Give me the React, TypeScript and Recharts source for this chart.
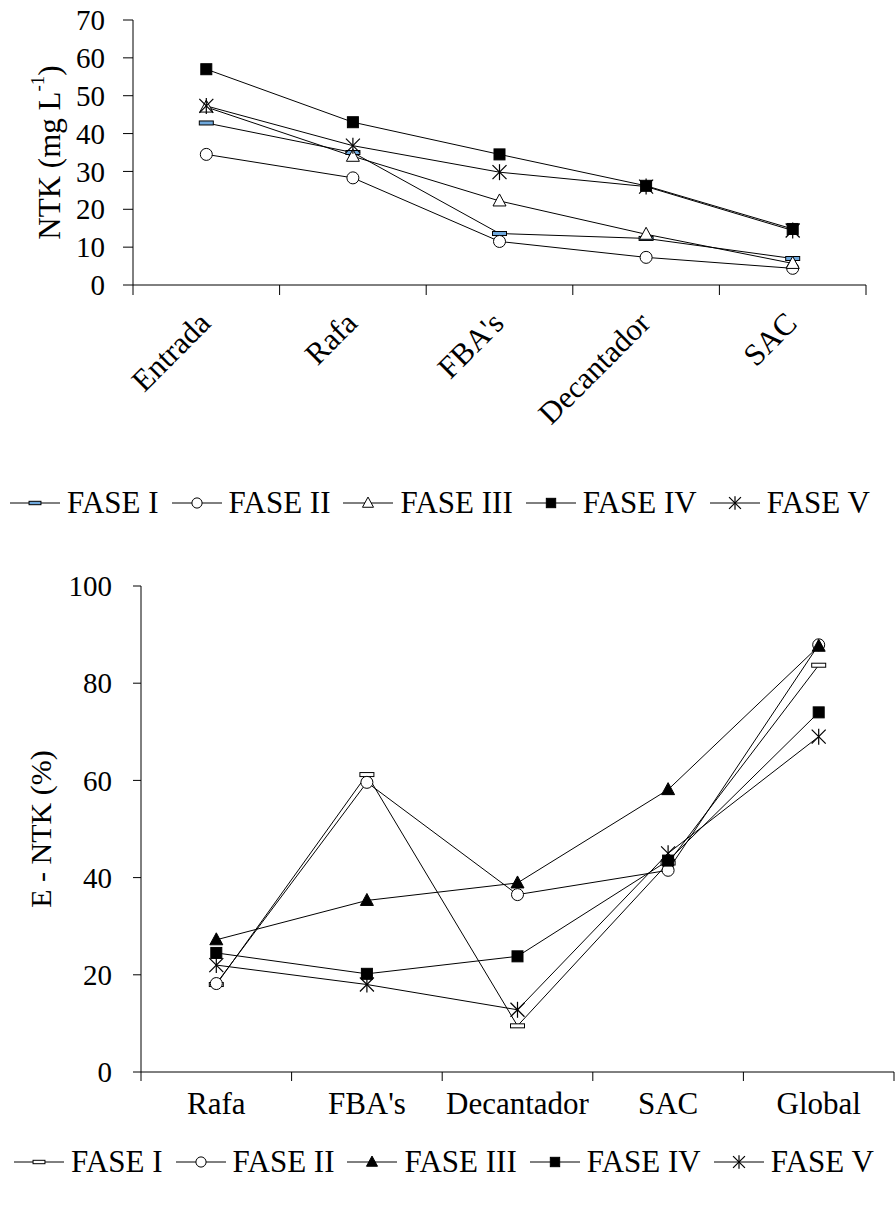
import React from 'react';
import { LineChart, Line, XAxis, YAxis, Label } from 'recharts';

// ---------- DATA ----------
const stagesTop = ['Entrada', 'Rafa', "FBA's", 'Decantador', 'SAC'];
const ntkFaseI = [42.8, 35.0, 13.6, 12.3, 7.0];
const ntkFaseII = [34.5, 28.3, 11.5, 7.3, 4.4];
const ntkFaseIII = [47.0, 34.0, 22.2, 13.4, 5.7];
const ntkFaseIV = [57.0, 43.0, 34.5, 26.2, 14.8];
const ntkFaseV = [47.3, 36.8, 29.8, 26.0, 14.4];
const topYTicks = [0, 10, 20, 30, 40, 50, 60, 70];

const stagesBottom = ['Rafa', "FBA's", 'Decantador', 'SAC', 'Global'];
const effFaseI = [18.0, 61.2, 9.5, 43.0, 83.7];
const effFaseII = [18.2, 59.6, 36.5, 41.5, 87.9];
const effFaseIII = [27.2, 35.3, 38.9, 58.1, 87.6];
const effFaseIV = [24.5, 20.2, 23.8, 43.5, 74.0];
const effFaseV = [22.0, 18.0, 12.8, 45.0, 69.0];
const bottomYTicks = [0, 20, 40, 60, 80, 100];

const seriesNames = ['FASE I', 'FASE II', 'FASE III', 'FASE IV', 'FASE V'];
const seriesKeys = ['f1', 'f2', 'f3', 'f4', 'f5'];
const markerKinds = ['dash', 'circle', 'triangle', 'square', 'star'];

const topData = stagesTop.map((name, i) => ({
  i,
  name,
  f1: ntkFaseI[i],
  f2: ntkFaseII[i],
  f3: ntkFaseIII[i],
  f4: ntkFaseIV[i],
  f5: ntkFaseV[i],
}));

const bottomData = stagesBottom.map((name, i) => ({
  i,
  name,
  f1: effFaseI[i],
  f2: effFaseII[i],
  f3: effFaseIII[i],
  f4: effFaseIV[i],
  f5: effFaseV[i],
}));

const boundaryTicks = [-0.5, 0.5, 1.5, 2.5, 3.5, 4.5];
const centerTicks = [0, 1, 2, 3, 4];

const FONT = '"Liberation Serif", "Times New Roman", serif';

// ---------- MARKERS ----------
type MarkerProps = {
  kind: string;
  cx: number;
  cy: number;
  filledTriangle?: boolean;
  dashFill?: string;
  s?: number;
};

function Marker({ kind, cx, cy, filledTriangle, dashFill, s = 1 }: MarkerProps) {
  if (cx == null || cy == null) return <g />;
  switch (kind) {
    case 'dash':
      return (
        <rect x={cx - 7 * s} y={cy - 2 * s} width={14 * s} height={4 * s}
          fill={dashFill || '#fff'} stroke="#000" strokeWidth={1} />
      );
    case 'circle':
      return <circle cx={cx} cy={cy} r={6 * s} fill="#fff" stroke="#000" strokeWidth={1} />;
    case 'triangle':
      return (
        <polygon
          points={`${cx},${cy - 7 * s} ${cx + 6.5 * s},${cy + 5 * s} ${cx - 6.5 * s},${cy + 5 * s}`}
          fill={filledTriangle ? '#000' : '#fff'} stroke="#000" strokeWidth={1} />
      );
    case 'square':
      return <rect x={cx - 5.5 * s} y={cy - 5.5 * s} width={11 * s} height={11 * s} fill="#000" stroke="#000" />;
    case 'star':
      return (
        <g stroke="#000" strokeWidth={1.2}>
          <line x1={cx} y1={cy - 8 * s} x2={cx} y2={cy + 8 * s} />
          <line x1={cx - 7 * s} y1={cy - 7 * s} x2={cx + 7 * s} y2={cy + 7 * s} />
          <line x1={cx - 7 * s} y1={cy + 7 * s} x2={cx + 7 * s} y2={cy - 7 * s} />
        </g>
      );
    default:
      return <g />;
  }
}

const EmptyTick = () => <g />;

const YTick = (p: any) => {
  const { x, y, payload } = p;
  return (
    <text x={x} y={y} dy="0.35em" textAnchor="end" fontSize={29} fontFamily={FONT} fill="#000">
      {payload.value}
    </text>
  );
};

const TopCatTick = (p: any) => {
  const { x, y, payload } = p;
  const ax = x + 6;
  const ay = y + 30;
  return (
    <text x={ax} y={ay} transform={`rotate(-45, ${ax}, ${ay})`} textAnchor="end"
      fontSize={31} fontFamily={FONT} fill="#000">
      {stagesTop[payload.value]}
    </text>
  );
};

const BottomCatTick = (p: any) => {
  const { x, y, payload } = p;
  return (
    <text x={x} y={y + 33} textAnchor="middle" fontSize={31} fontFamily={FONT} fill="#000">
      {stagesBottom[payload.value]}
    </text>
  );
};

const TopYLabel = (props: any) => {
  const vb = props.viewBox || { y: 20, height: 265 };
  const cx = 49;
  const cy = vb.y + vb.height / 2;
  return (
    <text x={cx} y={cy} transform={`rotate(-90, ${cx}, ${cy})`} textAnchor="middle"
      dominantBaseline="central" fontSize={31} fontFamily={FONT} fill="#000">
      NTK (mg L<tspan fontSize={19} dy={-12}>-1</tspan><tspan dy={12}>)</tspan>
    </text>
  );
};

const BottomYLabel = (props: any) => {
  const vb = props.viewBox || { y: 586, height: 486 };
  const cx = 40;
  const cy = vb.y + vb.height / 2;
  return (
    <text x={cx} y={cy} transform={`rotate(-90, ${cx}, ${cy})`} textAnchor="middle"
      dominantBaseline="central" fontSize={30} fontFamily={FONT} fill="#000">
      E - NTK (%)
    </text>
  );
};

function LegendRow({ top, left, filledTriangle, dashFill }: { top: number; left: number; filledTriangle: boolean; dashFill: string }) {
  return (
    <div style={{
      position: 'absolute', top, left, display: 'flex', alignItems: 'center',
      whiteSpace: 'nowrap', fontFamily: FONT, fontSize: 31, lineHeight: '34px', color: '#000',
    }}>
      {seriesNames.map((name, k) => (
        <div key={name} style={{ display: 'flex', alignItems: 'center', marginRight: 13 }}>
          <svg width={50} height={24} style={{ display: 'block' }}>
            <line x1={0} y1={12} x2={50} y2={12} stroke="#000" strokeWidth={1} />
            <Marker kind={markerKinds[k]} cx={25} cy={12} s={0.85}
              filledTriangle={filledTriangle} dashFill={dashFill} />
          </svg>
          <span style={{ marginLeft: 7 }}>{name}</span>
        </div>
      ))}
    </div>
  );
}

export default function App() {
  return (
    <div style={{ position: 'absolute', left: 0, top: 0, width: 895, height: 1205, background: '#fff', overflow: 'hidden' }}>
      {/* Top chart */}
      <div style={{ position: 'absolute', left: 0, top: 0 }}>
        <LineChart width={895} height={435} data={topData}
          margin={{ top: 20, right: 29, bottom: 0, left: 0 }}>
          <XAxis xAxisId="a" dataKey="i" type="number" domain={[-0.5, 4.5]} ticks={boundaryTicks}
            interval={0} tick={EmptyTick} tickSize={10} height={10}
            axisLine={{ stroke: '#000' }} tickLine={{ stroke: '#000' }} />
          <XAxis xAxisId="b" dataKey="i" type="number" domain={[-0.5, 4.5]} ticks={centerTicks}
            interval={0} tick={TopCatTick} tickSize={0} tickMargin={0} height={140}
            axisLine={false} tickLine={false} />
          <YAxis type="number" domain={[0, 70]} ticks={topYTicks} interval={0} width={133}
            tickSize={10} tickMargin={18} tick={YTick}
            axisLine={{ stroke: '#000' }} tickLine={{ stroke: '#000' }}>
            <Label content={TopYLabel} />
          </YAxis>
          {seriesKeys.map((key, k) => (
            <Line key={key} xAxisId="a" dataKey={key} name={seriesNames[k]} type="linear"
              stroke="#000" strokeWidth={1} isAnimationActive={false}
              dot={(p: any) => (
                <Marker key={`t-${key}-${p.index}`} kind={markerKinds[k]} cx={p.cx} cy={p.cy}
                  filledTriangle={false} dashFill="#6fa8dc" />
              )}
              activeDot={false} />
          ))}
        </LineChart>
      </div>
      <LegendRow top={486} left={10} filledTriangle={false} dashFill="#6fa8dc" />

      {/* Bottom chart */}
      <div style={{ position: 'absolute', left: 0, top: 540 }}>
        <LineChart width={895} height={591} data={bottomData}
          margin={{ top: 46, right: 1, bottom: 0, left: 0 }}>
          <XAxis xAxisId="a" dataKey="i" type="number" domain={[-0.5, 4.5]} ticks={boundaryTicks}
            interval={0} tick={EmptyTick} tickSize={9} height={9}
            axisLine={{ stroke: '#000' }} tickLine={{ stroke: '#000' }} />
          <XAxis xAxisId="b" dataKey="i" type="number" domain={[-0.5, 4.5]} ticks={centerTicks}
            interval={0} tick={BottomCatTick} tickSize={0} tickMargin={0} height={50}
            axisLine={false} tickLine={false} />
          <YAxis type="number" domain={[0, 100]} ticks={bottomYTicks} interval={0} width={141}
            tickSize={8} tickMargin={21} tick={YTick}
            axisLine={{ stroke: '#000' }} tickLine={{ stroke: '#000' }}>
            <Label content={BottomYLabel} />
          </YAxis>
          {seriesKeys.map((key, k) => (
            <Line key={key} xAxisId="a" dataKey={key} name={seriesNames[k]} type="linear"
              stroke="#000" strokeWidth={1} isAnimationActive={false}
              dot={(p: any) => (
                <Marker key={`b-${key}-${p.index}`} kind={markerKinds[k]} cx={p.cx} cy={p.cy}
                  filledTriangle={true} dashFill="#fff" />
              )}
              activeDot={false} />
          ))}
        </LineChart>
      </div>
      <LegendRow top={1145} left={14} filledTriangle={true} dashFill="#fff" />
    </div>
  );
}
